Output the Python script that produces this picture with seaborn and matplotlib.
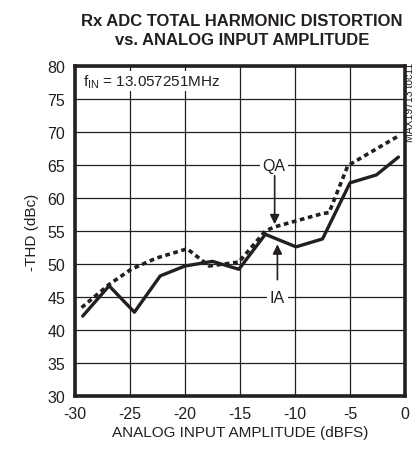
import pandas as pd
import seaborn as sns
import numpy as np
import matplotlib.pyplot as plt

# IA (solid) and QA (dotted) curves
ia_amp = [-29.3, -26.9, -24.6, -22.25, -20.0, -17.5, -15.1, -12.7, -9.9, -7.5, -5.0, -2.6, -0.6]
ia_thd = [42.1, 46.7, 42.7, 48.2, 49.7, 50.4, 49.2, 54.5, 52.6, 53.8, 62.3, 63.5, 66.2]

qa_amp = [-29.4, -26.9, -24.9, -22.6, -19.8, -17.8, -15.1, -12.7, -11.9, -7.6, -6.9, -5.2, -0.6]
qa_thd = [43.4, 46.9, 49.2, 50.9, 52.3, 49.7, 50.3, 55.0, 55.6, 57.6, 57.8, 64.9, 69.4]

x_ticks = [-30, -25, -20, -15, -10, -5, 0]
y_ticks = [30, 35, 40, 45, 50, 55, 60, 65, 70, 75, 80]

sns.set_theme(style='white')
plt.rcParams['font.family'] = ['Liberation Sans', 'DejaVu Sans']
plt.rcParams['axes.unicode_minus'] = False
plt.rcParams['mathtext.fontset'] = 'custom'
plt.rcParams['mathtext.rm'] = 'Liberation Sans'

ink = '#231f20'

df = pd.concat([
    pd.DataFrame({'amp': ia_amp, 'thd': ia_thd, 'ch': 'IA'}),
    pd.DataFrame({'amp': qa_amp, 'thd': qa_thd, 'ch': 'QA'}),
])

fig = plt.figure(figsize=(4.19, 4.56), dpi=100)
ax = fig.add_axes([0.179, 0.1294, 0.7876, 0.7236])

sns.lineplot(data=df[df.ch == 'IA'], x='amp', y='thd', color=ink, lw=2.4, ax=ax, sort=False)
sns.lineplot(data=df[df.ch == 'QA'], x='amp', y='thd', color=ink, lw=2.6, ax=ax, sort=False,
             linestyle=(0, (1.3, 1.0)))

ax.set_xlim(-30, 0)
ax.set_ylim(30, 80)
ax.set_xticks(x_ticks)
ax.set_yticks(y_ticks)
ax.tick_params(labelsize=11.5, length=0, pad=7, colors=ink)
ax.grid(True, color=ink, lw=0.9)
for s in ax.spines.values():
    s.set_linewidth(2.6)
    s.set_color(ink)

ax.set_xlabel('ANALOG INPUT AMPLITUDE (dBFS)', fontsize=11, color=ink, labelpad=3)
ax.set_ylabel('-THD (dBc)', fontsize=11, color=ink, labelpad=6)

ax.text(-29.3, 77.7, r'f$_{\mathregular{IN}}$ = 13.057251MHz', fontsize=11, color=ink,
        va='center', ha='left', bbox=dict(fc='white', ec='none', pad=1))

ax.annotate('', xy=(-11.85, 55.6), xytext=(-11.85, 63.8),
            arrowprops=dict(arrowstyle='-|>', color=ink, lw=1.2, mutation_scale=14))
ax.text(-11.9, 65, 'QA', fontsize=11.5, color=ink, ha='center', va='center',
        bbox=dict(fc='white', ec='none', pad=2))
ax.annotate('', xy=(-11.6, 53.4), xytext=(-11.6, 47.2),
            arrowprops=dict(arrowstyle='-|>', color=ink, lw=1.2, mutation_scale=14))
ax.text(-11.6, 45, 'IA', fontsize=11.5, color=ink, ha='center', va='center',
        bbox=dict(fc='white', ec='none', pad=2))

fig.text(0.577, 0.932, 'Rx ADC TOTAL HARMONIC DISTORTION\nvs. ANALOG INPUT AMPLITUDE',
         ha='center', va='center', fontsize=12, fontweight='bold', color=ink, linespacing=1.35)
fig.text(0.978, 0.775, 'MAX19713 toc11', rotation=90, fontsize=7.5, color=ink,
         ha='center', va='center')

fig.savefig('out.png', dpi=100)
